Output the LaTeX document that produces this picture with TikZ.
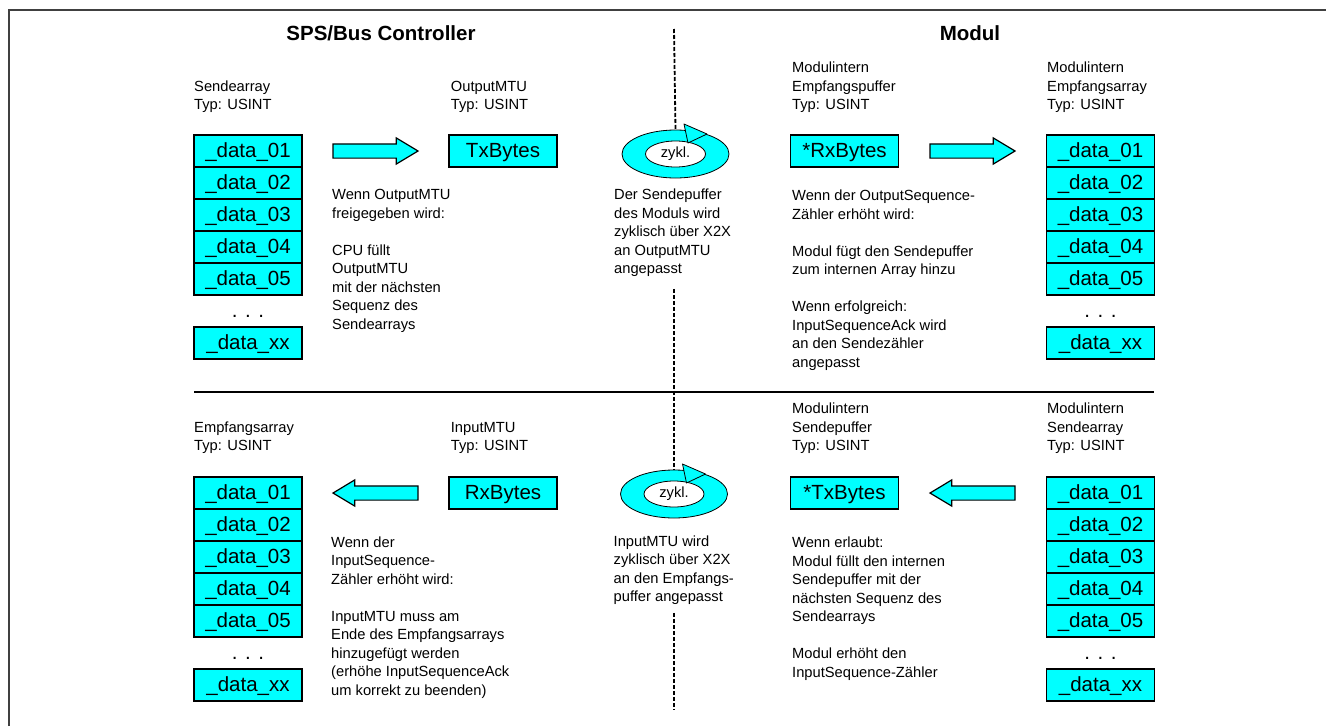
\documentclass[tikz,border=0pt]{standalone}
\usepackage{fontspec}
\setmainfont{Liberation Sans}
\usetikzlibrary{positioning,calc,shapes.geometric,shapes.arrows}
\definecolor{zyan}{RGB}{0,255,255}
\tikzset{
  cell/.style = {rectangle, draw=black, fill=zyan, line width=1.5pt,
    outer sep=0pt, inner sep=0pt, minimum width=108pt, minimum height=32pt,
    text height=15pt, text depth=3pt, font=\fontsize{20.5}{24}\selectfont},% Feld im Array
  dotsnode/.style = {inner sep=0pt, anchor=base,
    font=\fontsize{20.5}{24}\selectfont},
  note/.style = {align=left, inner sep=0pt, anchor=base west,
    font=\fontsize{14.7}{18.5}\selectfont},% base = letzte Zeile
  heading/.style = {inner sep=0pt, anchor=base,
    font=\fontsize{20.5}{24}\selectfont\bfseries},
  fatarrow/.style = {single arrow, draw=black, fill=zyan, line width=1.2pt,
    inner xsep=0pt, inner ysep=6.5pt, minimum height=85pt, outer sep=0pt,
    single arrow head extend=6pt, single arrow tip angle=62},
  ring/.style = {ellipse, draw=black, fill=zyan, line width=0.8pt,
    minimum width=107pt, minimum height=48pt, inner sep=0pt},
  hub/.style = {ellipse, draw=black, fill=white, line width=0.8pt,
    minimum width=60pt, minimum height=26pt, inner sep=0pt,
    font=\fontsize{14.7}{18.5}\selectfont},
  divider/.style = {line width=1.8pt, dash pattern=on 4pt off 2pt},
  rahmen/.style = {line width=1.5pt, black!75}
}
% Pfeilspitze am Zyklus-Symbol
\newcommand{\ringhead}[1]{\draw[line width=0.8pt, fill=zyan, line join=round]
  ($(#1)+(8.5,-30)$) -- ($(#1)+(31.5,-20)$) -- ($(#1)+(12.5,-11)$) -- cycle;}

\begin{document}
\begin{tikzpicture}[x=1pt,y=-1pt]
\useasboundingbox (0,0) rectangle (1326,726);
\draw[rahmen] (9,726) -- (9,10) -- (1326,10);

\node[heading] (hsps) at (381,40.7) {SPS/Bus Controller};
\node[heading] (hmod) at (970,40.7) {Modul};

% Arrays
\foreach \arr/\x/\y in {sa/248/135, ea/1100.5/135, ra/248/477, ma/1100.5/477}{
  \node[cell, anchor=north] (\arr1) at (\x,\y) {\_data\_01};
  \foreach \i [remember=\i as \j (initially 1)] in {2,...,5}
    \node[cell, below=0pt of \arr\j] (\arr\i) {\_data\_0\i};
  \node[cell, below=32pt of \arr5] (\arr-xx) {\_data\_xx};
  \node[dotsnode] (\arr-dots) at ($(\arr5.south)+(0,22)$) {. . .};
}

% Puffer
\node[cell] (outmtu) at (503,151) {TxBytes};
\node[cell] (rxbuf) at (844.5,151) {*RxBytes};
\node[cell] (inmtu) at (503,493) {RxBytes};
\node[cell] (txbuf) at (844.5,493) {*TxBytes};

\node[fatarrow, anchor=tail] (a1) at ($(sa1.east)+(31,0)$) {};
\node[fatarrow, anchor=tail] (a2) at ($(rxbuf.east)+(31.5,0)$) {};
\node[fatarrow, shape border rotate=180, anchor=tip] (a3) at ($(ra1.east)+(31,0)$) {};
\node[fatarrow, shape border rotate=180, anchor=tip] (a4) at ($(txbuf.east)+(31.5,0)$) {};

% zyklisch
\node[ring] (cyc1) at (675.5,154) {};
\node[hub] (hub1) at (cyc1) {zykl.};
\ringhead{cyc1}
\node[ring] (cyc2) at (674,494) {};
\node[hub] (hub2) at (cyc2) {zykl.};
\ringhead{cyc2}

% Beschriftungen
\node[note] (lab-sa) at (194,109.5) {Sendearray\\Typ: USINT};
\node[note] (lab-out) at (450.7,109.5) {OutputMTU\\Typ: USINT};
\node[note] (lab-rx) at (792,109.5) {Modulintern\\Empfangspuffer\\Typ: USINT};
\node[note] (lab-ea) at (1047,109.5) {Modulintern\\Empfangsarray\\Typ: USINT};
\node[note] (lab-ra) at (194,450.5) {Empfangsarray\\Typ: USINT};
\node[note] (lab-in) at (450.7,450.5) {InputMTU\\Typ: USINT};
\node[note] (lab-tx) at (792,450.5) {Modulintern\\Sendepuffer\\Typ: USINT};
\node[note] (lab-ma) at (1047,450.5) {Modulintern\\Sendearray\\Typ: USINT};

\node[note] (txt-out) at (332,329) {Wenn OutputMTU\\freigegeben wird:\\[18.5pt]CPU füllt\\OutputMTU\\mit der nächsten\\Sequenz des\\Sendearrays};
\node[note] (txt-mid1) at (614,273.5) {Der Sendepuffer\\des Moduls wird\\zyklisch über X2X\\an OutputMTU\\angepasst};
\node[note] (txt-rx) at (792,367) {Wenn der OutputSequence-\\Zähler erhöht wird:\\[18.5pt]Modul fügt den Sendepuffer\\zum internen Array hinzu\\[18.5pt]Wenn erfolgreich:\\InputSequenceAck wird\\an den Sendezähler\\angepasst};
\node[note] (txt-in) at (331,695) {Wenn der\\InputSequence-\\Zähler erhöht wird:\\[18.5pt]InputMTU muss am\\Ende des Empfangsarrays\\hinzugefügt werden\\(erhöhe InputSequenceAck\\um korrekt zu beenden)};
\node[note] (txt-mid2) at (613.5,601.5) {InputMTU wird\\zyklisch über X2X\\an den Empfangs-\\puffer angepasst};
\node[note] (txt-tx) at (792,677) {Wenn erlaubt:\\Modul füllt den internen\\Sendepuffer mit der\\nächsten Sequenz des\\Sendearrays\\[18.5pt]Modul erhöht den\\InputSequence-Zähler};

% Trennlinien
\coordinate (septop) at (674,29);
\coordinate (sepbot) at (674,710);
\draw[line width=2pt] (194,392) -- (1154,392);
\draw[divider] (septop) -- (cyc1.north);
\draw[divider] ($(txt-mid1.south -| septop)+(0,12)$) -- (cyc2.north);
\draw[divider] ($(txt-mid2.south -| septop)+(0,8)$) -- (sepbot);
\end{tikzpicture}
\end{document}
